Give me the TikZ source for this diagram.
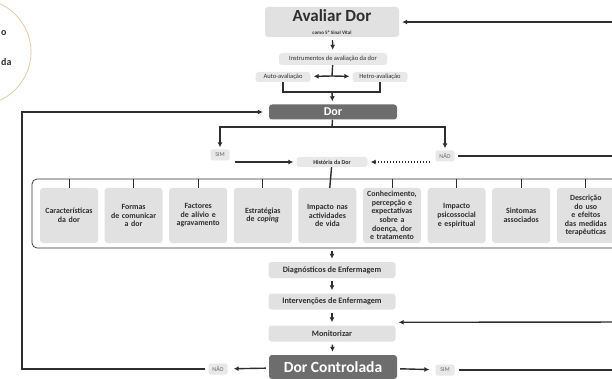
\documentclass[tikz,border=0pt]{standalone}
\usepackage{fontspec}
\setmainfont{Carlito}
\usetikzlibrary{arrows.meta}
\definecolor{boxgray}{HTML}{E1E1E1}
\definecolor{tagray}{HTML}{E8E8E8}
\definecolor{darkgray}{HTML}{6D6D6D}
\definecolor{ink}{HTML}{2E2E2E}
\definecolor{ringtan}{HTML}{E2C9A9}
\tikzstyle{block} = [fill=boxgray, rounded corners=3pt, align=center,
                     inner sep=0pt, text=ink]
\tikzstyle{topic} = [block, minimum width=58pt, minimum height=55pt, text width=57pt,
                     font=\bfseries\fontsize{7.9}{8.6}\selectfont]
\tikzstyle{stage} = [block, minimum width=127pt, minimum height=16pt,
                     font=\bfseries\fontsize{8.2}{9}\selectfont]
\tikzstyle{darkbox} = [block, fill=darkgray, text=white, minimum width=128pt]
\tikzstyle{tag} = [block, fill=tagray, rounded corners=2pt, minimum height=11pt,
                   minimum width=19pt, inner xsep=2pt, text=black!60,
                   font=\fontsize{6}{7}\selectfont]
\tikzstyle{ringtext} = [anchor=west, inner sep=0pt, text=ink,
                        font=\bfseries\fontsize{10}{11}\selectfont]
\tikzstyle{flow} = [draw=ink, line width=1.4pt, -{Latex[length=5pt,width=5pt]},
                    shorten <=3pt, shorten >=3pt]
\tikzstyle{wire} = [draw=ink, line width=1.4pt]
\tikzstyle{tick} = [draw=ink, line width=0.7pt]

\begin{document}
\begin{tikzpicture}[x=1pt, y=-1pt]

% canvas
\useasboundingbox (0,0) rectangle (612,379);
\clip (0,0) rectangle (612,379);
\fill[white] (0,0) rectangle (612,379);

% ring at top left
\draw[ringtan, line width=0.8pt] (-22,52) circle (53);
\node[ringtext] (ringa) at (1,33) {o};
\node[ringtext] (ringb) at (1,62) {da};

% add nodes
\node [block, minimum width=134pt, minimum height=30pt, font=\bfseries] (eval) at (332,22)
  {{\fontsize{17}{17}\selectfont Avaliar Dor}\\[1pt]{\fontsize{5}{6}\selectfont como 5º Sinal Vital}};
\node [block, fill=tagray, minimum width=108pt, minimum height=12pt,
       font=\fontsize{6.5}{7}\selectfont] (instr) at (333,59) {Instrumentos de avaliação da dor};
\node [block, fill=tagray, minimum width=55pt, minimum height=10pt,
       font=\fontsize{6.5}{7}\selectfont] (auto) at (283,77) {Auto-avaliação};
\node [block, fill=tagray, minimum width=55pt, minimum height=10pt,
       font=\fontsize{6.5}{7}\selectfont] (hetro) at (380,77) {Hetro-avaliação};
\node [darkbox, minimum height=15pt, font=\bfseries\fontsize{12}{12}\selectfont] (dor) at (333,112) {Dor};

\node [tag] (sim1) at (220,155) {SIM};
\node [tag] (nao1) at (445,156) {NÃO};
\node [block, fill=tagray, minimum width=71pt, minimum height=10pt,
       font=\bfseries\fontsize{6}{7}\selectfont] (hist) at (332,162) {História da Dor};

\node [draw=ink, line width=0.7pt, rounded corners=5pt, minimum width=590pt,
       minimum height=69pt, inner sep=0pt] (grp) at (327,213.5) {};
\foreach \txt [count=\i] in {{Características\\da dor}, {Formas\\de comunicar\\a dor},
    {Factores\\de alívio e\\agravamento}, {Estratégias\\de \textit{coping}},
    {Impacto nas\\actividades\\de vida},
    {Conhecimento,\\percepção e\\expectativas\\sobre a\\doença, dor\\e tratamento},
    {Impacto\\psicossocial\\e espiritual}, {Sintomas\\associados},
    {Descrição\\do uso\\e efeitos\\das medidas\\terapêuticas}}
  \node [topic] (t\i) at ({69+64.6*(\i-1)},215.5) {\txt};

\node [stage] (diag) at (332,270) {Diagnósticos de Enfermagem};
\node [stage] (interv) at (332,301.5) {Intervenções de Enfermagem};
\node [stage] (monit) at (332,333.5) {Monitorizar};
\node [darkbox, minimum height=24pt, font=\bfseries\fontsize{15.5}{16}\selectfont] (dc) at (333,367) {Dor Controlada};
\node [tag] (nao2) at (218,369) {NÃO};
\node [tag] (sim2) at (445,370) {SIM};

% helper points
\coordinate (split) at (332,76);
\coordinate (join) at (332,92);
\coordinate (fork) at (332,127);
\coordinate (loopleft) at (22,240);
\coordinate (topin) at (640,22);
\coordinate (monin) at (640,322);

% add connections
\draw[flow] (topin) -- (eval);
\draw[flow] (eval) -- (instr);
\draw[wire] (instr) -- (split);
\draw[flow, shorten <=0pt] (split) -- (auto);
\draw[flow, shorten <=0pt] (split) -- (hetro);
\draw[wire] (auto.south) -- (auto.south |- join) -- (hetro.south |- join) -- (hetro.south);
\draw[flow, shorten <=0pt] (join) -- (dor);
\draw[wire] (dor) -- (fork);
\draw[flow, shorten <=0pt, shorten >=2pt] (fork) -| (sim1);
\draw[flow, shorten <=0pt, shorten >=2pt] (fork) -| (nao1);
\draw[flow, shorten <=5pt] (sim1.east |- hist) -- (hist);
\draw[flow, shorten <=5pt, dash pattern=on 1.4pt off 1.6pt] (nao1.west |- hist) -- (hist);
\draw[wire, shorten <=3pt] (nao1.east) -- ++(200,0);
\draw[wire] (hist) -- (t5);
\foreach \i in {1,2,3,4,6,7,8,9}
  \draw[tick] (t\i.north) -- (t\i.north |- grp.north);
\draw[flow, shorten <=3pt] (grp.south -| diag) -- (diag);
\draw[flow] (diag) -- (interv);
\draw[flow] (interv) -- (monit);
\draw[flow] (monit) -- (dc);
\draw[flow] (monin) -- ([yshift=3pt]monit.north east);
\draw[flow, shorten >=6pt] (dc) -- (nao2);
\draw[flow, shorten >=6pt] (nao2) -| (loopleft) |- (dor);
\draw[flow, shorten >=6pt] (dc) -- (sim2);
\draw[wire, shorten <=4pt] (sim2.east) -- ++(200,0);

\end{tikzpicture}
\end{document}
